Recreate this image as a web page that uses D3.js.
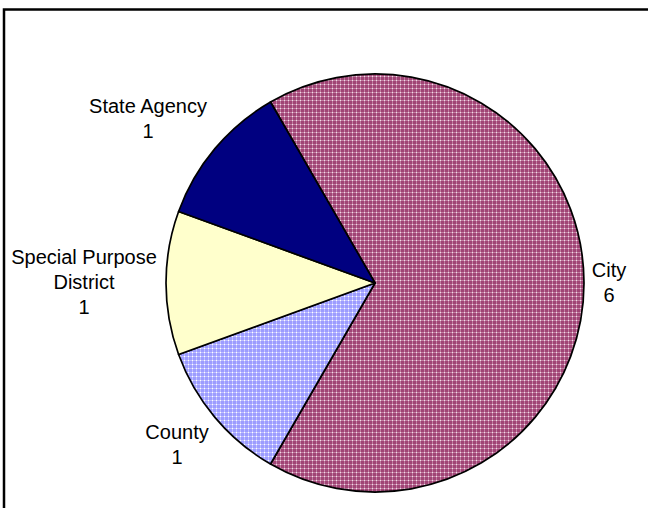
<!DOCTYPE html>
<html>
<head>
<meta charset="utf-8">
<script src="https://cdn.jsdelivr.net/npm/d3@7"></script>
<style>
  html, body { margin: 0; padding: 0; background: #ffffff; }
  svg { display: block; }
  text { font-family: "Liberation Sans", Arial, sans-serif; font-size: 20px; fill: #000; }
</style>
</head>
<body>
<svg id="chart" width="648" height="508"></svg>
<script>
// Data
const categories = ["City", "County", "Special Purpose District", "State Agency"];
const values = [6, 1, 1, 1];
const labelLines = [["City"], ["County"], ["Special Purpose", "District"], ["State Agency"]];
const fills = ["url(#patCity)", "url(#patCounty)", "#ffffcc", "#000080"];

const svg = d3.select("#chart");

// patterns
const defs = svg.append("defs");
function makePattern(id, base, light, dot) {
  const p = defs.append("pattern").attr("id", id).attr("patternUnits", "userSpaceOnUse")
    .attr("width", 4).attr("height", 4);
  p.append("rect").attr("width", 4).attr("height", 4).attr("fill", base);
  p.append("rect").attr("x", 0).attr("y", 1).attr("width", 4).attr("height", 1).attr("fill", light);
  p.append("rect").attr("x", 1).attr("y", 0).attr("width", 1).attr("height", 4).attr("fill", light);
  p.append("rect").attr("x", 1).attr("y", 1).attr("width", 1).attr("height", 1).attr("fill", dot);
}
makePattern("patCity", "#a04475", "#c27ea2", "#f0dde8");
makePattern("patCounty", "#9c9cff", "#c0c0ff", "#ffffff");

// frame (extends past right/bottom edge)
svg.append("rect").attr("x", 4).attr("y", 9.5).attr("width", 700).attr("height", 600)
  .attr("fill", "none").attr("stroke", "#000").attr("stroke-width", 2.5);

const cx = 375, cy = 283, r = 209;
const start = -Math.PI / 6;
const pie = d3.pie().sort(null).value(d => d)
  .startAngle(start).endAngle(start + 2 * Math.PI);
const arcs = pie(values);
const arc = d3.arc().innerRadius(0).outerRadius(r);

const g = svg.append("g").attr("transform", `translate(${cx},${cy})`);
g.selectAll("path").data(arcs).join("path")
  .attr("d", arc)
  .attr("fill", (d, i) => fills[i])
  .attr("stroke", "#000")
  .attr("stroke-width", 1.7)
  .attr("stroke-linejoin", "round");

// label positions (anchor centre x, first baseline y) relative to pie centre
const labelPos = [
  [234, -6],   // City
  [-198, 156], // County
  [-291, -19], // Special Purpose District
  [-227, -170] // State Agency
];
const lineH = 25;
arcs.forEach((a, i) => {
  const lines = labelLines[i].concat([String(values[i])]);
  const t = g.append("text").attr("text-anchor", "middle");
  lines.forEach((ln, k) => {
    t.append("tspan").attr("x", labelPos[i][0]).attr("y", labelPos[i][1] + k * lineH).text(ln);
  });
});
</script>
</body>
</html>
